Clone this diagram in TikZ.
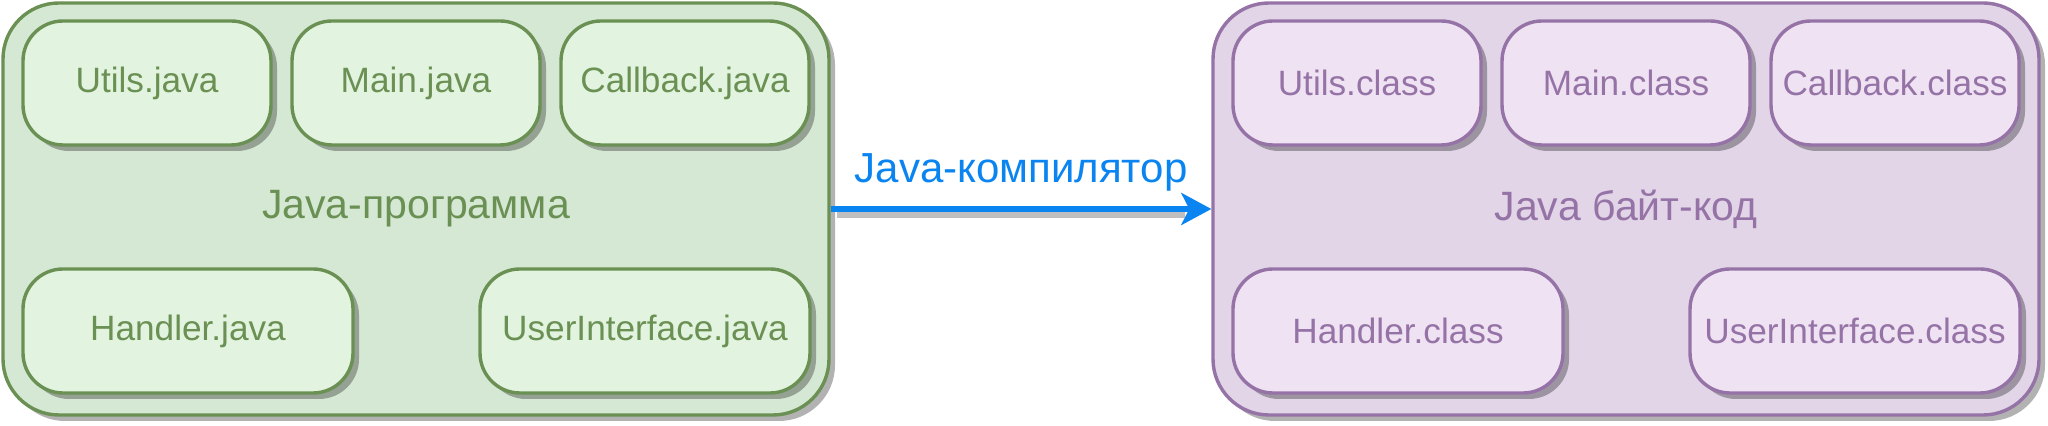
\documentclass[tikz,border=0pt]{standalone}
\usepackage{fontspec}
\setmainfont{Liberation Sans}
\usetikzlibrary{shadows,arrows.meta}

\definecolor{grnline}{HTML}{6A9153}
\definecolor{grnfill}{HTML}{D5E8D4}
\definecolor{grnbox}{HTML}{E2F3DF}
\definecolor{violine}{HTML}{9673A6}
\definecolor{viofill}{HTML}{E1D5E7}
\definecolor{viobox}{HTML}{EFE2F3}
\definecolor{compblue}{HTML}{0A84F0}

\tikzstyle{dropsh}=[drop shadow={shadow xshift=3pt, shadow yshift=-3pt, fill=black, opacity=0.3}]
\tikzstyle{grp}=[dropsh, draw, rounded corners=28pt, line width=1.7pt, minimum width=413pt, minimum height=206pt, font=\fontsize{20.5}{24}\selectfont]
\tikzstyle{filebox}=[dropsh, draw, rounded corners=20pt, line width=1.7pt, minimum width=124pt, minimum height=62pt, font=\fontsize{17.6}{21}\selectfont]
\tikzstyle{widebox}=[filebox, minimum width=165pt]
\tikzstyle{java}=[draw=grnline, text=grnline]
\tikzstyle{bytec}=[draw=violine, text=violine]
\tikzstyle{arr}=[draw=compblue, line width=3pt, -{Stealth[length=15pt, width=16pt, inset=4pt]}]
\tikzstyle{arrsh}=[draw=black, opacity=0.25, line width=3pt]

\begin{document}
\begin{tikzpicture}[x=1pt, y=1pt]
  \useasboundingbox (0,0) rectangle (1024,213);

  \node [grp, java, fill=grnfill] (prog) at (208,108.5) {Java-программа};
  \node [grp, bytec, fill=viofill] (byte) at (813,108.5) {Java байт-код};

  \node [filebox, java, fill=grnbox] (utilsj) at (73.5,171.5) {Utils.java};
  \node [filebox, java, fill=grnbox] (mainj) at (208,171.5) {Main.java};
  \node [filebox, java, fill=grnbox] (callbackj) at (342.5,171.5) {Callback.java};
  \node [widebox, java, fill=grnbox] (handlerj) at (94,47.5) {Handler.java};
  \node [widebox, java, fill=grnbox] (uij) at (322.5,47.5) {UserInterface.java};

  \node [filebox, bytec, fill=viobox] (utilsc) at (678.5,171.5) {Utils.class};
  \node [filebox, bytec, fill=viobox] (mainc) at (813,171.5) {Main.class};
  \node [filebox, bytec, fill=viobox] (callbackc) at (947.5,171.5) {Callback.class};
  \node [widebox, bytec, fill=viobox] (handlerc) at (699,47.5) {Handler.class};
  \node [widebox, bytec, fill=viobox] (uic) at (927.5,47.5) {UserInterface.class};

  \draw [arrsh] ([shift={(3pt,-3pt)}]prog.east) -- ([shift={(-13pt,-3pt)}]byte.west);
  \draw [arr] (prog.east) -- (byte.west)
    node[midway, above=4pt, text=compblue, font=\fontsize{21}{25}\selectfont] (compiler) {Java-компилятор};
\end{tikzpicture}
\end{document}
